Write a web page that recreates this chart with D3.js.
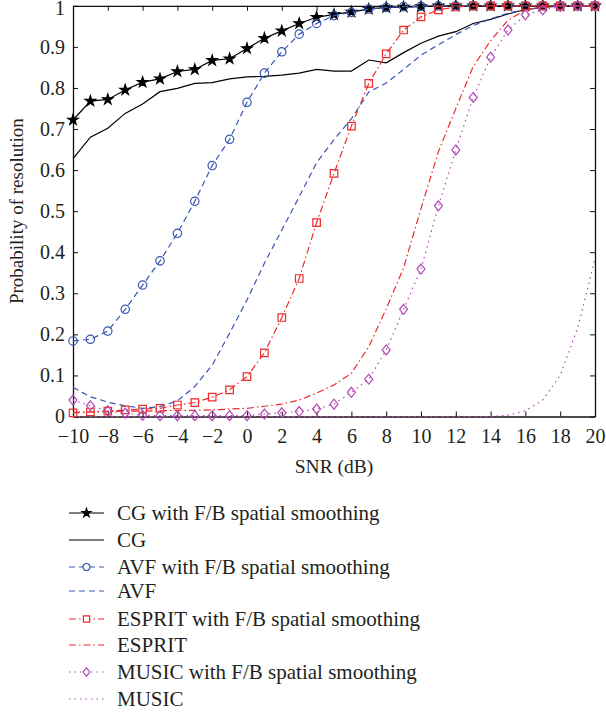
<!DOCTYPE html>
<html lang="en">
<head>
<meta charset="UTF-8">
<title>Probability of resolution vs SNR</title>
<script src="https://d3js.org/d3.v7.min.js"></script>
<style>
    body { margin: 0; background: #fff; }
    text { font-family: "Liberation Serif", "DejaVu Serif", serif; fill: #231f20; }
</style>
</head>
<body>
<svg id="chart"></svg>
<script>

    // SNR in dB, one sample per integer
    var snr = [-10, -9, -8, -7, -6, -5, -4, -3, -2, -1, 0, 1, 2, 3, 4, 5, 6, 7, 8, 9, 10,
               11, 12, 13, 14, 15, 16, 17, 18, 19, 20];

    var cgFB = [0.722, 0.768, 0.772, 0.795, 0.814, 0.822, 0.840, 0.845, 0.867, 0.871, 0.896,
                0.921, 0.939, 0.957, 0.972, 0.979, 0.985, 0.992, 0.996, 0.997, 0.998,
                1, 1, 1, 1, 1, 1, 1, 1, 1, 1];
    var cg = [0.628, 0.680, 0.702, 0.738, 0.761, 0.791, 0.799, 0.811, 0.813, 0.822, 0.827,
              0.828, 0.831, 0.836, 0.845, 0.841, 0.841, 0.868, 0.861, 0.886, 0.909,
              0.926, 0.937, 0.957, 0.967, 0.980, 0.991, 0.996, 1, 1, 1];
    var avfFB = [0.184, 0.188, 0.208, 0.261, 0.320, 0.379, 0.446, 0.524, 0.611, 0.675, 0.765,
                 0.836, 0.888, 0.931, 0.957, 0.976, 0.984, 0.992, 0.996, 0.998, 0.999,
                 1, 1, 1, 1, 1, 1, 1, 1, 1, 1];
    var avf = [0.071, 0.048, 0.035, 0.026, 0.020, 0.024, 0.038, 0.073, 0.125, 0.203, 0.284,
               0.373, 0.454, 0.535, 0.618, 0.674, 0.725, 0.790, 0.812, 0.845, 0.880,
               0.905, 0.930, 0.952, 0.968, 0.982, 0.991, 0.996, 1, 1, 1];
    var espritFB = [0.009, 0.011, 0.013, 0.016, 0.018, 0.020, 0.028, 0.034, 0.047, 0.065, 0.097,
                    0.155, 0.241, 0.336, 0.472, 0.592, 0.707, 0.811, 0.883, 0.941, 0.973,
                    0.990, 0.997, 1, 1, 1, 1, 1, 1, 1, 1];
    var esprit = [0.010, 0.011, 0.012, 0.013, 0.013, 0.014, 0.015, 0.015, 0.016, 0.018, 0.020,
                  0.025, 0.030, 0.040, 0.057, 0.077, 0.105, 0.170, 0.262, 0.362, 0.506,
                  0.645, 0.750, 0.852, 0.915, 0.965, 0.990, 0.998, 1, 1, 1];
    var musicFB = [0.040, 0.026, 0.014, 0.008, 0.003, 0.002, 0.002, 0.002, 0.002, 0.002, 0.002,
                   0.006, 0.009, 0.012, 0.018, 0.030, 0.059, 0.091, 0.162, 0.261, 0.359,
                   0.513, 0.649, 0.777, 0.875, 0.941, 0.978, 0.990, 0.998, 1, 1];
    var music = [0, 0, 0, 0, 0, 0, 0, 0, 0, 0, 0,
                 0, 0, 0, 0, 0, 0, 0, 0, 0, 0,
                 0, 0, 0, 0, 0.003, 0.014, 0.040, 0.100, 0.215, 0.385];

    var xTicks = [-10, -8, -6, -4, -2, 0, 2, 4, 6, 8, 10, 12, 14, 16, 18, 20];
    var yTicks = [0, 0.1, 0.2, 0.3, 0.4, 0.5, 0.6, 0.7, 0.8, 0.9, 1];

    // custom square-diamond marker (d3's diamond is too tall)
    var symbolRhomb = {
        draw: function (ctx, size) {
            var w = Math.sqrt(size) * 0.5, h = w * 1.25;
            ctx.moveTo(0, -h); ctx.lineTo(w, 0); ctx.lineTo(0, h); ctx.lineTo(-w, 0); ctx.closePath();
        }
    };

    var series = [
        {name: "CG with F/B spatial smoothing", values: cgFB, color: "#000000", dash: null, symbol: d3.symbolStar, size: 34, fill: true},
        {name: "CG", values: cg, color: "#000000", dash: null, symbol: null},
        {name: "AVF with F/B spatial smoothing", values: avfFB, color: "#3656b3", dash: "6,4", symbol: d3.symbolCircle, size: 55, fill: false},
        {name: "AVF", values: avf, color: "#3656b3", dash: "6,4", symbol: null},
        {name: "ESPRIT with F/B spatial smoothing", values: espritFB, color: "#ee2a2a", dash: "7,3,1.5,3", symbol: d3.symbolSquare, size: 56, fill: false},
        {name: "ESPRIT", values: esprit, color: "#ee2a2a", dash: "7,3,1.5,3", symbol: null},
        {name: "MUSIC with F/B spatial smoothing", values: musicFB, color: "#b548b5", dash: "1.5,4", symbol: symbolRhomb, size: 64, fill: false},
        {name: "MUSIC", values: music, color: "#b548b5", dash: "1.5,4", symbol: null}
    ];

    var svg = d3.select("#chart").attr("width", 606).attr("height", 715);

    var xScale = d3.scaleLinear().domain([-10, 20]).range([73, 595]);
    var yScale = d3.scaleLinear().domain([0, 1]).range([416.5, 5.8]);

    var plot = svg.append("g");

    // axes: labels outside, ticks pointing inward, mirrored on top / right
    var xAxis = d3.axisBottom(xScale).tickValues(xTicks).tickSizeInner(-5).tickSizeOuter(0)
        .tickPadding(12.5).tickFormat(function (d) { return d < 0 ? "\u2212" + (-d) : d; });
    var yAxis = d3.axisLeft(yScale).tickValues(yTicks).tickSizeInner(-5).tickSizeOuter(0)
        .tickPadding(8).tickFormat(function (d) { return d === 0 || d === 1 ? d : d3.format(".1f")(d); });

    var gx = plot.append("g").attr("transform", "translate(0," + yScale(0) + ")").call(xAxis);
    var gy = plot.append("g").attr("transform", "translate(" + xScale(-10) + ",0)").call(yAxis);
    plot.append("g").attr("transform", "translate(0," + yScale(1) + ")")
        .call(d3.axisTop(xScale).tickValues(xTicks).tickSizeInner(-5).tickSizeOuter(0).tickFormat(""));
    plot.append("g").attr("transform", "translate(" + xScale(20) + ",0)")
        .call(d3.axisRight(yScale).tickValues(yTicks).tickSizeInner(-5).tickSizeOuter(0).tickFormat(""));

    plot.selectAll(".domain").attr("stroke", "#111").attr("stroke-width", 1.3);
    plot.selectAll(".tick line").attr("stroke", "#111");
    plot.selectAll(".tick text").style("font-size", "20px").style("font-family", "'Liberation Serif', serif").attr("fill", "#231f20");
    gy.selectAll(".tick text").filter(function (d) { return d === 1; }).attr("dy", "0.45em");

    svg.append("text").attr("x", xScale(5)).attr("y", 473).attr("text-anchor", "middle")
        .style("font-size", "19.5px").text("SNR (dB)");
    svg.append("text").attr("transform", "translate(23," + yScale(0.5) + ") rotate(-90)")
        .attr("text-anchor", "middle").style("font-size", "19px").text("Probability of resolution");

    var line = d3.line()
        .x(function (d, i) { return xScale(snr[i]); })
        .y(function (d) { return yScale(d); });

    series.forEach(function (s) {
        var g = plot.append("g");
        g.append("path").attr("d", line(s.values))
            .attr("fill", "none").attr("stroke", s.color).attr("stroke-width", 1.2)
            .attr("stroke-dasharray", s.dash);
        if (s.symbol) {
            g.selectAll("path.mk").data(s.values).enter().append("path").classed("mk", true)
                .attr("d", d3.symbol().type(s.symbol).size(s.size))
                .attr("transform", function (d, i) { return "translate(" + xScale(snr[i]) + "," + yScale(d) + ")"; })
                .attr("fill", s.fill ? s.color : "none")
                .attr("stroke", s.color).attr("stroke-width", 1.2);
        }
    });

    // legend
    var legendY = [513, 540, 567, 591, 619, 645, 672, 699];
    var legend = svg.append("g");
    series.forEach(function (s, i) {
        var g = legend.append("g").attr("transform", "translate(0," + legendY[i] + ")");
        g.append("line").attr("x1", 69).attr("x2", 104).attr("y1", 0).attr("y2", 0)
            .attr("stroke", s.color).attr("stroke-width", 1.2).attr("stroke-dasharray", s.dash);
        if (s.symbol) {
            g.append("path").attr("d", d3.symbol().type(s.symbol).size(s.size * 0.7)())
                .attr("transform", "translate(86.5,0)")
                .attr("fill", s.fill ? s.color : "#fff")
                .attr("stroke", s.color).attr("stroke-width", 1.2);
        }
        g.append("text").attr("x", 117).attr("y", 7).style("font-size", "21px").text(s.name);
    });
</script>
</body>
</html>
